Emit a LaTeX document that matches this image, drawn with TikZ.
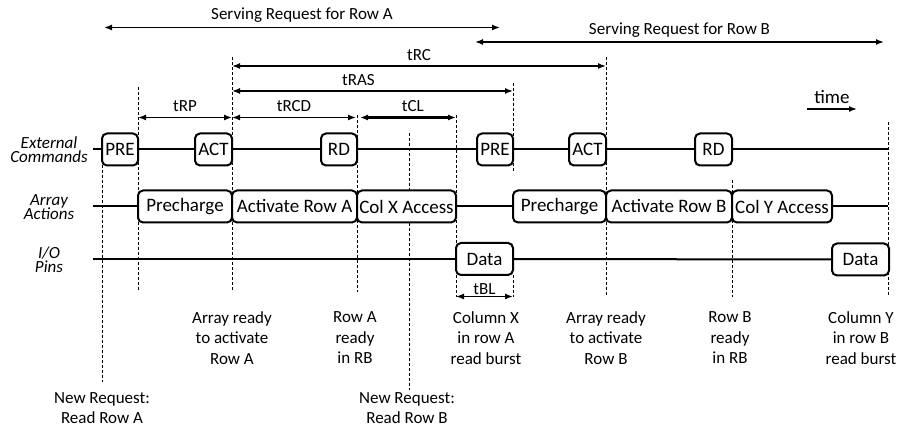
\documentclass[tikz,border=0pt]{standalone}
\usepackage{fontspec}
\setmainfont{Carlito}
\usepackage{tikz}
\usetikzlibrary{arrows.meta}
\usetikzlibrary{positioning}

\newcommand{\rowfont}{\fontsize{8.5}{7}\selectfont\itshape\lineskiplimit=-10pt}
\newcommand{\notefont}{\fontsize{8.5}{10.25}\selectfont}
\tikzset{
  cmdbox/.style={draw, rounded corners=2.5pt, fill=white, line width=1pt,
    inner sep=0pt, minimum height=16pt, font=\fontsize{9.5}{10}\selectfont},
  rowline/.style={line width=1pt},
  guide/.style={line width=0.5pt, dash pattern=on 1.5pt off 1pt},
  span/.style={line width=0.75pt,
    {Latex[length=4pt,width=3pt]}-{Latex[length=4pt,width=3pt]}},
  rowlabel/.style={font=\rowfont, align=center},
  note/.style={font=\notefont, align=center}
}

\begin{document}
\begin{tikzpicture}[x=0.5pt, y=-0.5pt,
    every node/.append style={font=\notefont}]
  \useasboundingbox (0,0) rectangle (918,432);

  % guides
  \foreach \n/\x/\t/\b in {reqA/102/150/382, rp/138/87/292, act/232/57/292,
      rd/357/115/292, reqB/409/133/390, cl/456/115/297, ras/513/83/172,
      rc/606/57/297, rdB/732/180/297, end/888/122/297, bl/513/275/297} {
    \coordinate (\n-t) at (\x,\t);
    \coordinate (\n-b) at (\x,\b);
    \draw[guide] (\n-t) -- (\n-b);
  }

  % rows
  \node[rowlabel] (cmdlab) at (49,150) {External\\Commands};
  \node[rowlabel] (arrlab) at (49,207) {Array\\Actions};
  \node[rowlabel] (iolab) at (49,260) {I/O\\Pins};

  \coordinate (cmdL) at (93,149.5);
  \coordinate (cmdR) at (888,149.5);
  \coordinate (arrL) at (93,206.5);
  \coordinate (arrR) at (888,206.5);
  \coordinate (ioL) at (93,259);
  \draw[rowline] (cmdL) -- (cmdR);
  \draw[rowline] (arrL) -- (arrR);

  % commands
  \node[cmdbox, minimum width=18pt] (preA) at (120,149.5) {PRE};
  \node[cmdbox, minimum width=18.5pt] (actA) at (213.5,149.5) {ACT};
  \node[cmdbox, minimum width=18pt] (rdA) at (339,149.5) {RD};
  \node[cmdbox, minimum width=18pt] (preB) at (495,149.5) {PRE};
  \node[cmdbox, minimum width=18.5pt] (actB) at (587.5,149.5) {ACT};
  \node[cmdbox, minimum width=18.5pt] (rdB) at (713.5,149.5) {RD};

  % array actions
  \node[cmdbox, minimum width=47pt] (pchA) at (185,206.5) {Precharge};
  \node[cmdbox, minimum width=62.5pt] (rowA) at (294.5,206.5) {Activate Row A};
  \node[cmdbox, minimum width=49.5pt] (colX) at (406.5,206.5) {Col X Access};
  \node[cmdbox, minimum width=46.5pt] (pchB) at (559.5,206.5) {Precharge};
  \node[cmdbox, minimum width=63pt] (rowB) at (669,206.5) {Activate Row B};
  \node[cmdbox, minimum width=50pt] (colY) at (782,206.5) {Col Y Access};

  % I/O pins
  \node[cmdbox, minimum width=28.5pt] (dataA) at (484.5,259) {Data};
  \node[cmdbox, minimum width=28.5pt] (dataB) at (860.5,259.5) {Data};
  \draw[rowline] (ioL) -- (dataA);
  \draw[rowline] (dataA) -- (dataB);

  % timings
  \coordinate (srvA-l) at (104,27.5);
  \coordinate (srvA-r) at (500,27.5);
  \coordinate (srvB-l) at (475,42);
  \coordinate (srvB-r) at (884,42);
  \draw[span] (srvA-l) -- node[above, inner sep=2pt] {Serving Request for Row A} (srvA-r);
  \draw[span] (srvB-l) -- node[above, inner sep=2pt] {Serving Request for Row B} (srvB-r);

  \foreach \name/\xa/\xb/\y/\p in {tRC/232/606/66/0.5, tRAS/232/513/91/0.45,
      tRP/138/232/117.5/0.5, tRCD/232/356/117.5/0.5} {
    \coordinate (\name-l) at (\xa,\y);
    \coordinate (\name-r) at (\xb,\y);
    \draw[span] (\name-l) -- node[above, pos=\p, inner sep=2.5pt] {\name} (\name-r);
  }
  \coordinate (tCL-l) at (360,117.5);
  \coordinate (tCL-r) at (456,117.5);
  \draw[span, line width=1.2pt] (tCL-l) -- node[above, pos=0.55, inner sep=2.5pt] {tCL} (tCL-r);
  \coordinate (tBL-l) at (456,296.5);
  \coordinate (tBL-r) at (513,296.5);
  \draw[span] (tBL-l) -- node[above, inner sep=0.8pt] {tBL} (tBL-r);

  \coordinate (time-l) at (807,109);
  \coordinate (time-r) at (857,109);
  \draw[line width=0.75pt, -{Latex[length=4pt,width=3pt]}] (time-l) -- node[above, inner sep=2.5pt, font=\fontsize{9.5}{10}\selectfont] {time} (time-r);

  % events
  \node[note] (rdyA) at (232,338) {Array ready\\to activate\\Row A};
  \node[note] (inA) at (355,338) {Row A\\ready\\in RB};
  \node[note] (brstA) at (486,338) {Column X\\in row A\\read burst};
  \node[note] (rdyB) at (606,338) {Array ready\\to activate\\Row B};
  \node[note] (inB) at (730,338) {Row B\\ready\\in RB};
  \node[note] (brstB) at (861,338) {Column Y\\in row B\\read burst};
  \node[note] (newA) at (102,408) {New Request:\\Read Row A};
  \node[note] (newB) at (407,408) {New Request:\\Read Row B};
\end{tikzpicture}
\end{document}
